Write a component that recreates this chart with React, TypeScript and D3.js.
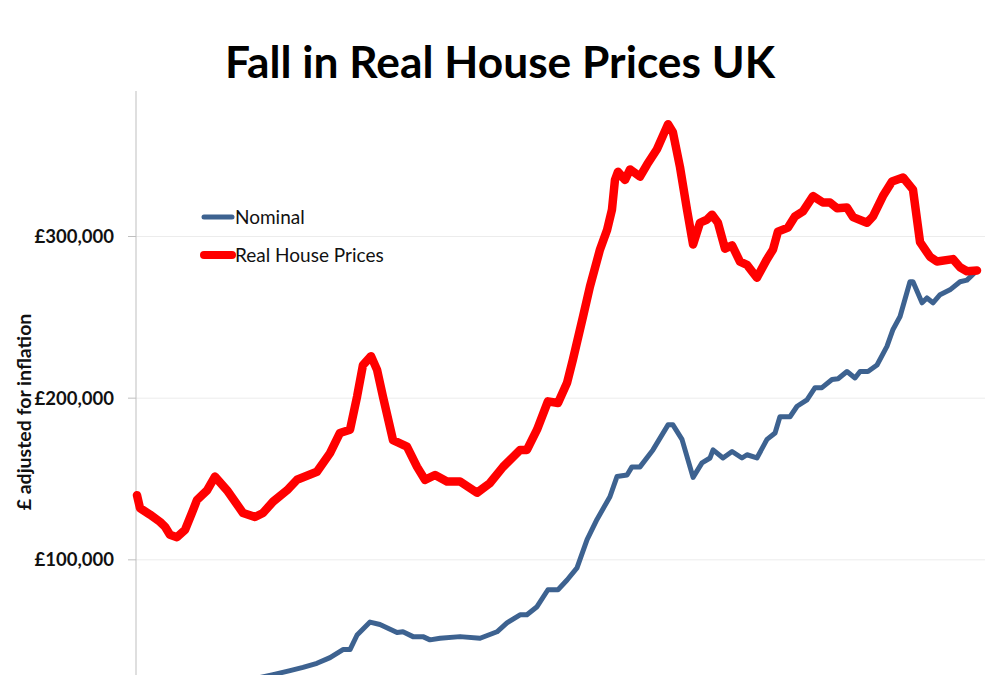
import React from "react";
import * as d3 from "d3";

// values, in £ thousands, dates as decimal years
const realYears = [
  1975.0, 1975.18, 1975.77, 1976.37, 1976.67, 1976.96, 1977.38, 1977.86, 1978.27, 1978.57,
  1979.17, 1979.64, 1980.36, 1981.31, 1982.02, 1982.5, 1983.1, 1983.93, 1984.52, 1985.71,
  1986.49, 1987.08, 1987.68, 1988.1, 1988.45, 1988.93, 1989.29, 1989.64, 1990.24, 1991.07,
  1991.67, 1992.14, 1992.74, 1993.45, 1994.23, 1995.24, 1996.01, 1996.79, 1997.8, 1998.21,
  1998.81, 1999.46, 2000.06, 2000.6, 2000.95, 2001.55, 2001.96, 2002.56, 2002.98, 2003.27,
  2003.45, 2003.63, 2004.05, 2004.35, 2004.94, 2005.36, 2005.95, 2006.61, 2006.9, 2007.32,
  2007.74, 2008.1, 2008.51, 2008.93, 2009.23, 2009.58, 2010.0, 2010.42, 2010.89, 2011.31,
  2011.9, 2012.5, 2012.86, 2013.15, 2013.75, 2014.17, 2014.64, 2015.24, 2015.83, 2016.25,
  2016.67, 2017.26, 2017.62, 2018.45, 2018.81, 2019.4, 2019.94, 2020.6, 2021.19, 2021.61,
  2022.2, 2022.62, 2023.57, 2023.99, 2024.4, 2025.0,
];
const realPrices = [
  140, 132, 128, 123.5, 120.5, 115.5, 114, 118.5, 129, 137,
  143, 151.5, 143, 129, 126.5, 129, 136, 143, 149.5, 154.5,
  166, 178.5, 180.5, 201, 220.5, 226, 217.5, 201, 174, 170,
  157.5, 149.5, 152.5, 148.5, 148.5, 141.5, 147.5, 157.5, 168, 168,
  180.5, 198, 197, 209.5, 224, 250.5, 269, 292, 304, 316.5,
  335, 340, 335, 341.5, 337, 344.5, 354, 369.5, 364.5, 343,
  316.5, 295, 308.5, 310.5, 313.5, 308.5, 292.5, 294.5, 284.5, 282.5,
  274.5, 286, 292, 303, 305.5, 312.5, 315.5, 325, 321, 321,
  317.5, 318, 312, 308.5, 312.5, 325, 334, 336.5, 329, 296.5,
  287.5, 284.5, 286, 281, 278.5, 279,
];

const nominalYears = [
  1975.0, 1976.96, 1978.75, 1980.54, 1982.02, 1983.1, 1984.11, 1984.88, 1985.71, 1986.49,
  1987.26, 1987.68, 1988.1, 1988.87, 1989.46, 1990.48, 1990.83, 1991.43, 1992.02, 1992.44,
  1993.04, 1994.23, 1995.42, 1996.43, 1997.02, 1997.8, 1998.21, 1998.81, 1999.46, 2000.06,
  2000.6, 2001.19, 2001.79, 2002.38, 2003.15, 2003.57, 2004.17, 2004.46, 2004.94, 2005.71,
  2006.61, 2006.9, 2007.44, 2008.1, 2008.63, 2009.11, 2009.29, 2009.88, 2010.42, 2011.01,
  2011.31, 2011.9, 2012.5, 2012.98, 2013.27, 2013.87, 2014.29, 2014.88, 2015.36, 2015.77,
  2016.37, 2016.73, 2017.26, 2017.74, 2018.04, 2018.51, 2019.05, 2019.64, 2020.0, 2020.42,
  2021.01, 2021.19, 2021.73, 2022.02, 2022.38, 2022.8, 2023.39, 2023.99, 2024.4, 2025.0,
];
const nominalPrices = [
  11, 13.5, 18.5, 23, 26.5, 29, 31.5, 33.5, 36, 39.5,
  44.5, 44.5, 53.5, 61.5, 60, 55, 55.5, 52.5, 52.5, 50.5,
  51.5, 52.5, 51.5, 55.5, 61, 66, 66, 71, 81.5, 81.5,
  87.5, 95, 112.5, 125, 139, 151.5, 152.5, 157.5, 157.5, 168,
  183.5, 183.5, 174.5, 151, 160, 163, 168, 163, 167, 163,
  165, 163, 174.5, 178.5, 188.5, 188.5, 195, 199, 206.5, 206.5,
  211.5, 212, 216.5, 212.5, 216.5, 216.5, 220.5, 232, 242.5, 250.5,
  272, 272, 259, 262, 259, 264, 267, 272, 273, 279,
];

const yTicks = [100000, 200000, 300000];

const seriesNames = ["Nominal", "Real House Prices"];
const seriesColors = ["#3d6290", "#ff0000"];

type Pt = { year: number; value: number };

export default function App() {
  const width = 1000;
  const height = 675;
  const left = 136;
  const right = 985;

  const x = d3.scaleLinear().domain([1975, 2025]).range([137, 977]);
  const y = d3.scaleLinear().domain([0, 390000]).range([721.5, 91]);

  const real: Pt[] = realYears.map((t, i) => ({ year: t, value: realPrices[i] * 1000 }));
  const nominal: Pt[] = nominalYears.map((t, i) => ({ year: t, value: nominalPrices[i] * 1000 }));

  const line = d3
    .line<Pt>()
    .x((d) => x(d.year))
    .y((d) => y(d.value));

  const fmt = (v: number) => "£" + d3.format(",")(v);
  const font = "Lato, 'Liberation Sans', sans-serif";

  return (
    <svg
      width={width}
      height={height}
      style={{ position: "absolute", left: 0, top: 0, background: "#fff" }}
      fontFamily={font}
    >
      <rect width={width} height={height} fill="#fff" />
      <text
        x={500}
        y={78}
        textAnchor="middle"
        fontSize={44}
        fontWeight="bold"
        fill="#000"
        textLength={550}
        lengthAdjust="spacingAndGlyphs"
      >
        Fall in Real House Prices UK
      </text>

      {/* grid + ticks */}
      {yTicks.map((t) => (
        <g key={t}>
          <line x1={left} x2={right} y1={y(t)} y2={y(t)} stroke="#ececec" strokeWidth={1} />
          <line x1={128} x2={left} y1={y(t)} y2={y(t)} stroke="#bfbfbf" strokeWidth={1} />
          <text x={114} y={y(t)} dy="0.35em" textAnchor="end" fontSize={18.5} fontWeight="bold" fill="#111">
            {fmt(t)}
          </text>
        </g>
      ))}
      <line x1={left} x2={left} y1={91} y2={height} stroke="#bfbfbf" strokeWidth={1} />

      <text
        transform={`translate(31,412) rotate(-90)`}
        textAnchor="middle"
        fontSize={19.5}
        fontWeight="bold"
        fill="#111"
      >
        £ adjusted for inflation
      </text>

      {/* series */}
      <path
        d={line(nominal) ?? ""}
        fill="none"
        stroke={seriesColors[0]}
        strokeWidth={5}
        strokeLinejoin="round"
        strokeLinecap="round"
      />
      <path
        d={line(real) ?? ""}
        fill="none"
        stroke={seriesColors[1]}
        strokeWidth={8.5}
        strokeLinejoin="round"
        strokeLinecap="round"
      />

      {/* legend */}
      {seriesNames.map((name, i) => (
        <g key={name} transform={`translate(0,${217 + i * 38})`}>
          <line
            x1={204}
            x2={232}
            y1={0}
            y2={0}
            stroke={seriesColors[i]}
            strokeWidth={i === 0 ? 5 : 8}
            strokeLinecap="round"
          />
          <text x={235} y={0} dy="0.35em" fontSize={19} fill="#111">
            {name}
          </text>
        </g>
      ))}
    </svg>
  );
}
